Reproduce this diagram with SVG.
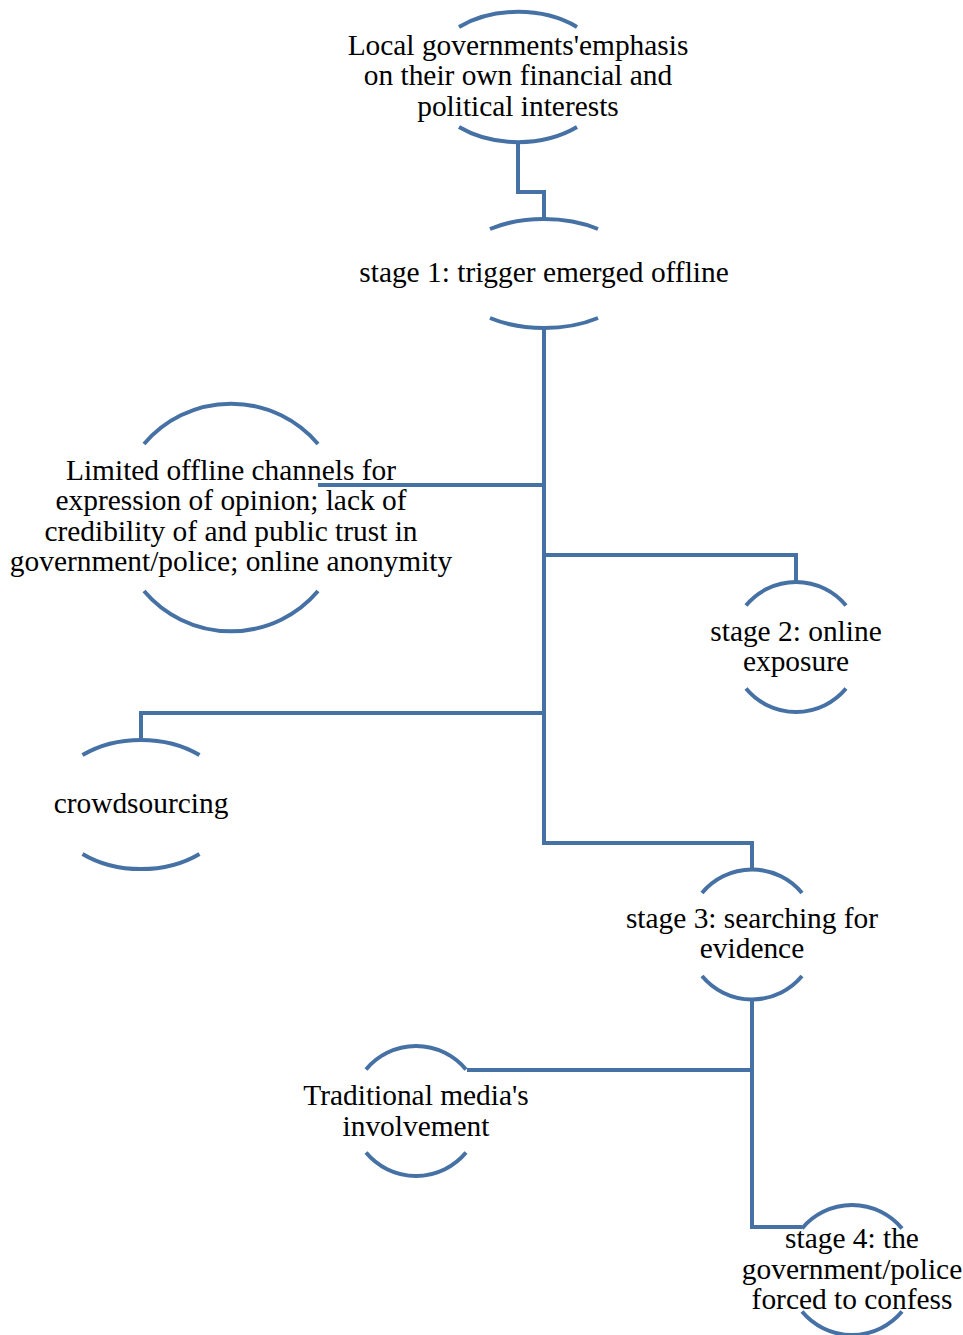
<svg xmlns="http://www.w3.org/2000/svg" width="963" height="1335" viewBox="0 0 963 1335">
<style>
.arc{fill:none;stroke:#4671A5;stroke-width:4}
.con{fill:none;stroke:#4671A5;stroke-width:4;stroke-linejoin:miter}
text{font-family:"Liberation Serif","Times New Roman",serif;font-size:29.4px;fill:#000;text-anchor:middle}
</style>
<rect width="963" height="1335" fill="#fff"/>
<g id="connectors">
<path class="con" d="M518,142 V192 H544 V219"/>
<path class="con" d="M544,328 V843 H752 V869"/>
<path class="con" d="M544,485 H318"/>
<path class="con" d="M544,555 H796 V582"/>
<path class="con" d="M544,713 H141 V740"/>
<path class="con" d="M752,1000 V1227 H802"/>
<path class="con" d="M752,1070 H467"/>
</g>
<g id="node1">
<path class="arc" d="M459,27 A92,65 0 0 1 577,27"/>
<path class="arc" d="M459,127 A92,65 0 0 0 577,127"/>
<text x="518" y="55">Local governments'emphasis</text>
<text x="518" y="85">on their own financial and</text>
<text x="518" y="116">political interests</text>
</g>
<g id="node2">
<path class="arc" d="M490,229 A93.5,54.5 0 0 1 598,229"/>
<path class="arc" d="M490,318 A93.5,54.5 0 0 0 598,318"/>
<text x="544" y="282">stage 1: trigger emerged offline</text>
</g>
<g id="node3">
<path class="arc" d="M144,444 A114,114 0 0 1 318,444"/>
<path class="arc" d="M144,591 A114,114 0 0 0 318,591"/>
<text x="231" y="480">Limited offline channels for</text>
<text x="231" y="510">expression of opinion; lack of</text>
<text x="231" y="541">credibility of and public trust in</text>
<text x="231" y="571">government/police; online anonymity</text>
</g>
<g id="node4">
<path class="arc" d="M746,605.5 A65,65 0 0 1 846,605.5"/>
<path class="arc" d="M746,688.5 A65,65 0 0 0 846,688.5"/>
<text x="796" y="641">stage 2: online</text>
<text x="796" y="671">exposure</text>
</g>
<g id="node5">
<path class="arc" d="M82.5,755 A91,64.5 0 0 1 199.5,755"/>
<path class="arc" d="M82.5,854 A91,64.5 0 0 0 199.5,854"/>
<text x="141" y="813">crowdsourcing</text>
</g>
<g id="node6">
<path class="arc" d="M702,893 A65,65 0 0 1 802,893"/>
<path class="arc" d="M702,976 A65,65 0 0 0 802,976"/>
<text x="752" y="928">stage 3: searching for</text>
<text x="752" y="958">evidence</text>
</g>
<g id="node7">
<path class="arc" d="M366,1069.5 A65,65 0 0 1 466,1069.5"/>
<path class="arc" d="M366,1152.5 A65,65 0 0 0 466,1152.5"/>
<text x="416" y="1105">Traditional media's</text>
<text x="416" y="1136">involvement</text>
</g>
<g id="node8">
<path class="arc" d="M802,1228.5 A65,65 0 0 1 902,1228.5"/>
<path class="arc" d="M802,1311.5 A65,65 0 0 0 902,1311.5"/>
<text x="852" y="1248">stage 4: the</text>
<text x="852" y="1279">government/police</text>
<text x="852" y="1309">forced to confess</text>
</g>
</svg>
